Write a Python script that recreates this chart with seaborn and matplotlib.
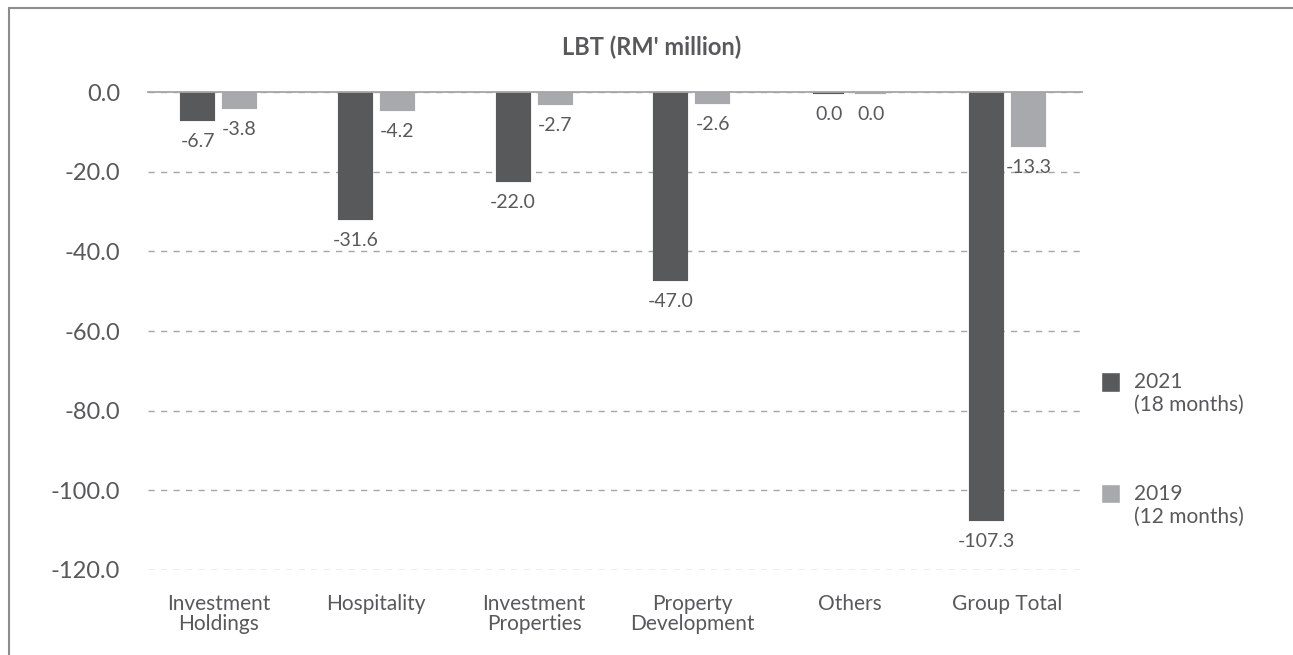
"""
LBT (RM' million) por segmento: 2021 (18 meses) vs 2019 (12 meses).
"""

import matplotlib
matplotlib.use("Agg")
import matplotlib.pyplot as plt
import pandas as pd
import seaborn as sns
from matplotlib.legend_handler import HandlerPatch
from matplotlib.patches import Patch, Rectangle
from matplotlib.ticker import FuncFormatter

# datos (Others: valores muy pequenos que redondean a 0.0)
segments = ["Investment\nHoldings", "Hospitality", "Investment\nProperties",
            "Property\nDevelopment", "Others", "Group Total"]
lbt_2021 = [-6.7, -31.6, -22.0, -47.0, -0.04, -107.3]
lbt_2019 = [-3.8, -4.2, -2.7, -2.6, -0.04, -13.3]
periods = ["2021\n(18 months)", "2019\n(12 months)"]
y_ticks = [0, -20, -40, -60, -80, -100, -120]

DARK = "#58595b"
LIGHT = "#a7a9ac"
TEXT = "#58595b"
GRID = "#a6a6a6"

df = pd.DataFrame({
    "segment": segments * 2,
    "lbt": lbt_2021 + lbt_2019,
    "period": [periods[0]] * len(segments) + [periods[1]] * len(segments),
})

sns.set_theme(style="white")
plt.rcParams["font.family"] = ["Lato", "DejaVu Sans"]

fig = plt.figure(figsize=(12.93, 6.55), dpi=100)
ax = fig.add_axes([0.1145, 0.1298, 0.7223, 0.7297])

sns.barplot(
    data=df, x="segment", y="lbt", hue="period",
    palette=[DARK, LIGHT], saturation=1,
    width=0.532, gap=0.262, legend=False, ax=ax,
    linewidth=3,
)
# borde del mismo color que la barra
for cont, col in zip(ax.containers, [DARK, LIGHT]):
    for p in cont:
        p.set_edgecolor(col)
        p.set_linewidth(3)
        p.set_zorder(3)


def fmt_val(v):
    s = f"{v:.1f}"
    return "0.0" if s == "-0.0" else s


# etiquetas de valor debajo de cada barra
for cont, vals in zip(ax.containers, [lbt_2021, lbt_2019]):
    for p, v in zip(cont, vals):
        x = p.get_x() + p.get_width() / 2
        y = min(p.get_y(), p.get_y() + p.get_height())
        ax.annotate(fmt_val(v), (x, y), xytext=(0, -10), textcoords="offset points",
                    ha="center", va="top", fontsize=14, color=TEXT)

ax.set_ylim(-120, 0)
ax.set_xlim(-0.447, 5.472)
ax.set_yticks(y_ticks)
ax.yaxis.set_major_formatter(FuncFormatter(lambda v, _: f"{v:.1f}"))
ax.tick_params(axis="y", length=0, pad=20, labelsize=17, labelcolor=TEXT)
ax.tick_params(axis="x", length=0, pad=17, labelsize=15, labelcolor=TEXT)
for lbl in ax.get_xticklabels():
    lbl.set_linespacing(1.05)
ax.set_xlabel("")
ax.set_ylabel("")

ax.yaxis.grid(True, linestyle=(0, (4.5, 4.5)), color=GRID, linewidth=1)
ax.set_axisbelow(True)
for s in ["left", "right", "bottom"]:
    ax.spines[s].set_visible(False)
# linea de cero por encima de las barras
ax.spines["top"].set_color(GRID)
ax.spines["top"].set_linewidth(1.3)
ax.spines["top"].set_zorder(5)


# leyenda con cuadrado alineado a la primera linea
def square_top(legend, orig_handle, xdescent, ydescent, width, height, fontsize):
    size = width
    y0 = -ydescent + height / 2 - size / 2 + 1.2 * fontsize * 0.5
    return Rectangle((-xdescent, y0), size, size)


handles = [Patch(facecolor=DARK), Patch(facecolor=LIGHT)]
fig.legend(
    handles, periods, loc="upper left", bbox_to_anchor=(0.8515, 0.432),
    frameon=False, fontsize=15, labelcolor=TEXT,
    handlelength=0.92, handleheight=0.92, handletextpad=0.67,
    labelspacing=3.3, borderpad=0, borderaxespad=0,
    handler_map={Patch: HandlerPatch(patch_func=square_top)},
)

fig.suptitle("LBT (RM' million)", x=0.504, y=0.928, va="center",
             fontsize=17, fontweight="bold", color=TEXT)

# marco exterior (solo se ven el borde superior e izquierdo)
fig.add_artist(Rectangle((9 / 1293, -0.5), 2.0, 1.5 - 7.5 / 655,
                         transform=fig.transFigure, fill=False,
                         edgecolor="#8c8c8c", linewidth=1.5))

fig.savefig("out.png", dpi=100)
